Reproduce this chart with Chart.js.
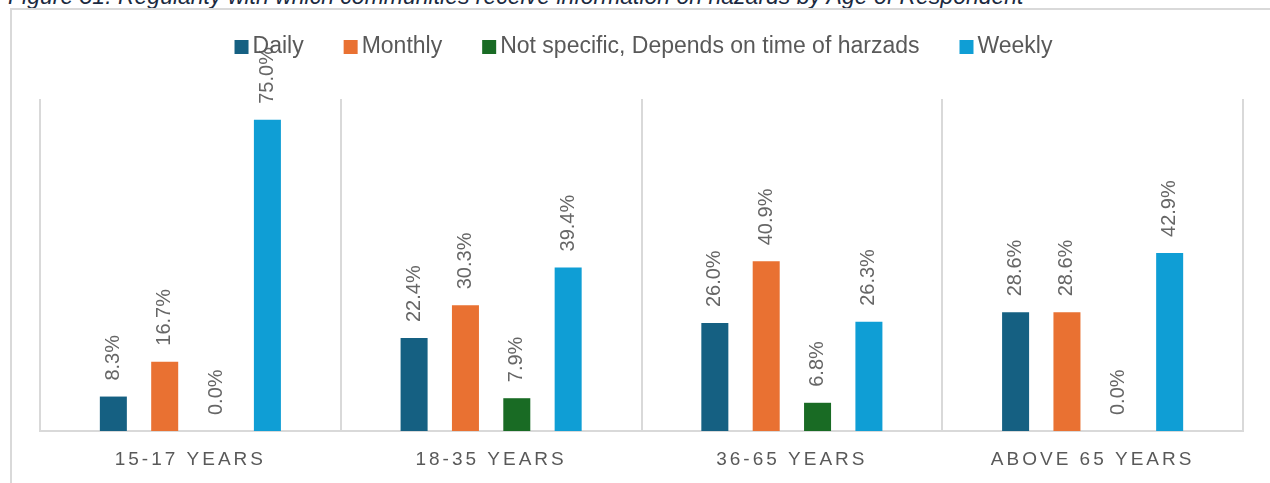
<!DOCTYPE html>
<html>
<head>
<meta charset="utf-8">
<script src="https://cdn.jsdelivr.net/npm/chart.js@4.4.0/dist/chart.umd.min.js"></script>
<style>
html,body{margin:0;padding:0;background:#fff;overflow:hidden;}
#titulo{position:absolute;left:8px;top:-15px;font:italic 23px "Liberation Sans",Arial,sans-serif;line-height:23px;color:#1b2a41;white-space:nowrap;}
#marco{position:absolute;left:10px;top:8px;width:1400px;height:600px;border-top:2px solid #d9d9d9;border-left:2px solid #d9d9d9;}
#contenedor{position:absolute;left:0;top:0;width:1270px;height:483px;}
</style>
</head>
<body>

<div id="titulo">Figure 31: Regularity with which communities receive information on hazards by Age of Respondent</div>
<div id="marco"></div>
<div id="contenedor"><canvas id="graficaEdad"></canvas></div>

<script>

const categorias = ["15-17 YEARS","18-35 YEARS","36-65 YEARS","ABOVE 65 YEARS"];

const daily = [8.3,22.4,26.0,28.6];
const monthly = [16.7,30.3,40.9,28.6];
const noEspecifico = [0.0,7.9,6.8,0.0];
const weekly = [75.0,39.4,26.3,42.9];

const nombresSeries = ["Daily","Monthly","Not specific, Depends on time of harzads","Weekly"];
const colores = ["#156082","#E97132","#196B24","#0F9ED5"];

const gris = "#595959";


/* etiquetas de valor giradas sobre cada barra */

const etiquetasValor = {
id:"etiquetasValor",
afterDatasetsDraw(chart){
const ctx = chart.ctx;
ctx.save();
ctx.font = "20px 'Liberation Sans', Arial, sans-serif";
ctx.fillStyle = "#666666";
ctx.textAlign = "left";
ctx.textBaseline = "middle";
chart.data.datasets.forEach((ds,i)=>{
chart.getDatasetMeta(i).data.forEach((bar,j)=>{
ctx.save();
ctx.translate(bar.x, bar.y - 16);
ctx.rotate(-Math.PI/2);
ctx.fillText(ds.data[j].toFixed(1) + "%", 0, 0);
ctx.restore();
});
});
ctx.restore();
}
};


/* nombres de categoria con espaciado de letras */

const etiquetasCategoria = {
id:"etiquetasCategoria",
afterDraw(chart){
const ctx = chart.ctx;
const x = chart.scales.x;
ctx.save();
ctx.font = "19px 'Liberation Sans', Arial, sans-serif";
ctx.letterSpacing = "3px";
ctx.fillStyle = gris;
ctx.textAlign = "center";
ctx.textBaseline = "middle";
categorias.forEach((c,i)=>{
ctx.fillText(c, x.getPixelForTick(i), 460);
});
ctx.restore();
}
};


/* leyenda arriba, centrada sobre el area del grafico */

const leyenda = {
id:"leyenda",
afterDraw(chart){
const ctx = chart.ctx;
const area = chart.chartArea;
const caja = 14, hueco = 4, separacion = 40;
ctx.save();
ctx.font = "23px 'Liberation Sans', Arial, sans-serif";
ctx.textBaseline = "middle";
ctx.textAlign = "left";
const anchos = nombresSeries.map(n=>ctx.measureText(n).width);
const total = anchos.reduce((a,b)=>a+b,0) + nombresSeries.length*(caja+hueco) + (nombresSeries.length-1)*separacion;
let x = (area.left + area.right)/2 - total/2 + 2;
const y = 47;
nombresSeries.forEach((n,i)=>{
ctx.fillStyle = colores[i];
ctx.fillRect(x, y - caja/2, caja, caja);
x += caja + hueco;
ctx.fillStyle = gris;
ctx.fillText(n, x, y);
x += anchos[i] + separacion;
});
ctx.restore();
}
};


const series = [daily,monthly,noEspecifico,weekly];

new Chart(document.getElementById("graficaEdad"),{
type:"bar",
data:{
labels:categorias,
datasets:series.map((d,i)=>({
label:nombresSeries[i],
data:d,
backgroundColor:colores[i],
barPercentage:0.526,
categoryPercentage:0.683
}))
},
options:{
responsive:true,
maintainAspectRatio:false,
animation:false,
layout:{padding:{top:99,left:40,right:27,bottom:52}},
plugins:{
legend:{display:false},
tooltip:{enabled:false}
},
scales:{
x:{
grid:{
offset:true,
color:"#d9d9d9",
lineWidth:2,
drawTicks:false
},
border:{color:"#d9d9d9",width:2},
ticks:{display:false}
},
y:{
display:false,
min:0,
max:80
}
}
},
plugins:[etiquetasValor,etiquetasCategoria,leyenda]
});

</script>
</body>
</html>
